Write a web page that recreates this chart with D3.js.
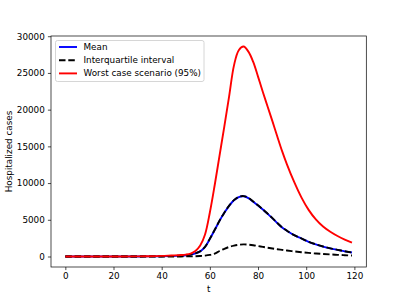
<!DOCTYPE html>
<html>
<head>
<meta charset="utf-8">
<script src="https://cdn.jsdelivr.net/npm/d3@7"></script>
<style>
  html, body { margin: 0; padding: 0; background: #fff; }
  svg { display: block; }
  text { font-family: "DejaVu Sans", sans-serif; fill: #000; }
</style>
</head>
<body>
<svg id="chart" width="407" height="300"></svg>
<script>
// ---- data ----
const tValues = [0,10,20,30,35,40,44,48,50,52,54,56,58,60,62,64,66,68,70,72,74,76,78,80,82,84,86,88,90,92,95,98,101,104,107,110,113,116,119];

const meanValues = [0,0,0,5,15,35,70,120,160,250,420,700,1300,2400,3600,4850,5950,6900,7650,8100,8200,7950,7450,6950,6400,5800,5200,4550,3950,3500,2900,2450,2000,1650,1350,1100,900,700,540];

const upperQuartile = [0,0,0,5,15,35,70,120,165,255,430,710,1320,2420,3620,4870,5970,6930,7680,8130,8230,7980,7480,6970,6420,5820,5220,4570,3970,3510,2910,2460,2010,1660,1360,1110,910,710,550];

const lowerQuartile = [0,0,0,0,2,5,8,10,12,15,30,60,120,220,400,750,1050,1300,1480,1600,1650,1620,1540,1420,1310,1200,1090,990,900,810,690,580,490,410,340,280,225,175,130];

const worstCase = [0,0,5,20,40,80,140,200,260,400,750,1500,3000,6000,9700,13700,17700,21800,26000,28100,28600,27900,26500,24500,22400,20400,18400,16350,14350,12550,10150,8050,6350,5050,4080,3370,2790,2310,1900];

const xTicks = [0,20,40,60,80,100,120];
const yTicks = [0,5000,10000,15000,20000,25000,30000];

const legendLabels = ["Mean", "Interquartile interval", "Worst case scenario (95%)"];

// ---- layout ----
const svg = d3.select("#chart");
const L = 51, R = 366.3, T = 36, B = 267;

const tMin = d3.min(tValues), tMax = d3.max(tValues);
const tPad = (tMax - tMin) * 0.05;
const yMax = d3.max(worstCase), yMin = 0;
const yPad = (yMax - yMin) * 0.05;

const x = d3.scaleLinear().domain([tMin - tPad, tMax + tPad]).range([L, R]);
const y = d3.scaleLinear().domain([yMin - yPad, yMax + yPad]).range([B, T]);

const fontSize = 8.8;

// axes
const xAxis = d3.axisBottom(x).tickValues(xTicks).tickSize(3.1).tickSizeOuter(0).tickPadding(3.1).tickFormat(d3.format("d"));
const yAxis = d3.axisLeft(y).tickValues(yTicks).tickSize(3.1).tickSizeOuter(0).tickPadding(3.1).tickFormat(d3.format("d"));

const gx = svg.append("g").attr("transform", `translate(0,${B})`).call(xAxis);
const gy = svg.append("g").attr("transform", `translate(${L},0)`).call(yAxis);
[gx, gy].forEach(g => {
  g.select(".domain").remove();
  g.selectAll(".tick line").attr("stroke", "#000").attr("stroke-width", 0.7);
  g.selectAll(".tick text").attr("font-size", fontSize).attr("fill", "#000").attr("font-family", "DejaVu Sans, sans-serif");
});

// lines
const series = (vals) => tValues.map((t, i) => [t, vals[i]]);
const line = d3.line().x(d => x(d[0])).y(d => y(d[1])).curve(d3.curveCatmullRom.alpha(0.5));

const plot = svg.append("g");
plot.append("path").datum(series(meanValues)).attr("d", line)
  .attr("fill", "none").attr("stroke", "#0000ff").attr("stroke-width", 1.9).attr("stroke-linejoin", "round");
plot.append("path").datum(series(upperQuartile)).attr("d", line)
  .attr("fill", "none").attr("stroke", "#000").attr("stroke-width", 1.9).attr("stroke-dasharray", "6.5,2.8");
plot.append("path").datum(series(lowerQuartile)).attr("d", line)
  .attr("fill", "none").attr("stroke", "#000").attr("stroke-width", 1.9).attr("stroke-dasharray", "6.5,2.8");
plot.append("path").datum(series(worstCase)).attr("d", line)
  .attr("fill", "none").attr("stroke", "#ff0000").attr("stroke-width", 1.9).attr("stroke-linejoin", "round");

// spines
svg.append("rect").attr("x", L).attr("y", T).attr("width", R - L).attr("height", B - T)
  .attr("fill", "none").attr("stroke", "#000").attr("stroke-width", 0.7);

// axis labels
svg.append("text").attr("x", (L + R) / 2).attr("y", 292).attr("text-anchor", "middle")
  .attr("font-size", fontSize).attr("fill", "#000").text("t");
svg.append("text").attr("transform", `translate(11.5,${(T + B) / 2}) rotate(-90)`)
  .attr("text-anchor", "middle").attr("font-size", fontSize).attr("fill", "#000").text("Hospitalized cases");

// legend
const lg = svg.append("g");
lg.append("rect").attr("x", 55.5).attr("y", 40.5).attr("width", 148.5).attr("height", 41)
  .attr("rx", 2).attr("fill", "#fff").attr("fill-opacity", 0.8).attr("stroke", "#cccccc").attr("stroke-width", 0.8);
const styles = [
  {stroke: "#0000ff", dash: null},
  {stroke: "#000", dash: "6.5,2.8"},
  {stroke: "#ff0000", dash: null}
];
legendLabels.forEach((lab, i) => {
  const cy = 47 + i * 13.2;
  lg.append("line").attr("x1", 59).attr("x2", 77).attr("y1", cy).attr("y2", cy)
    .attr("stroke", styles[i].stroke).attr("stroke-width", 1.9)
    .attr("stroke-dasharray", styles[i].dash);
  lg.append("text").attr("x", 83.5).attr("y", cy).attr("dy", "0.35em")
    .attr("font-size", fontSize).attr("fill", "#000").text(lab);
});
</script>
</body>
</html>
